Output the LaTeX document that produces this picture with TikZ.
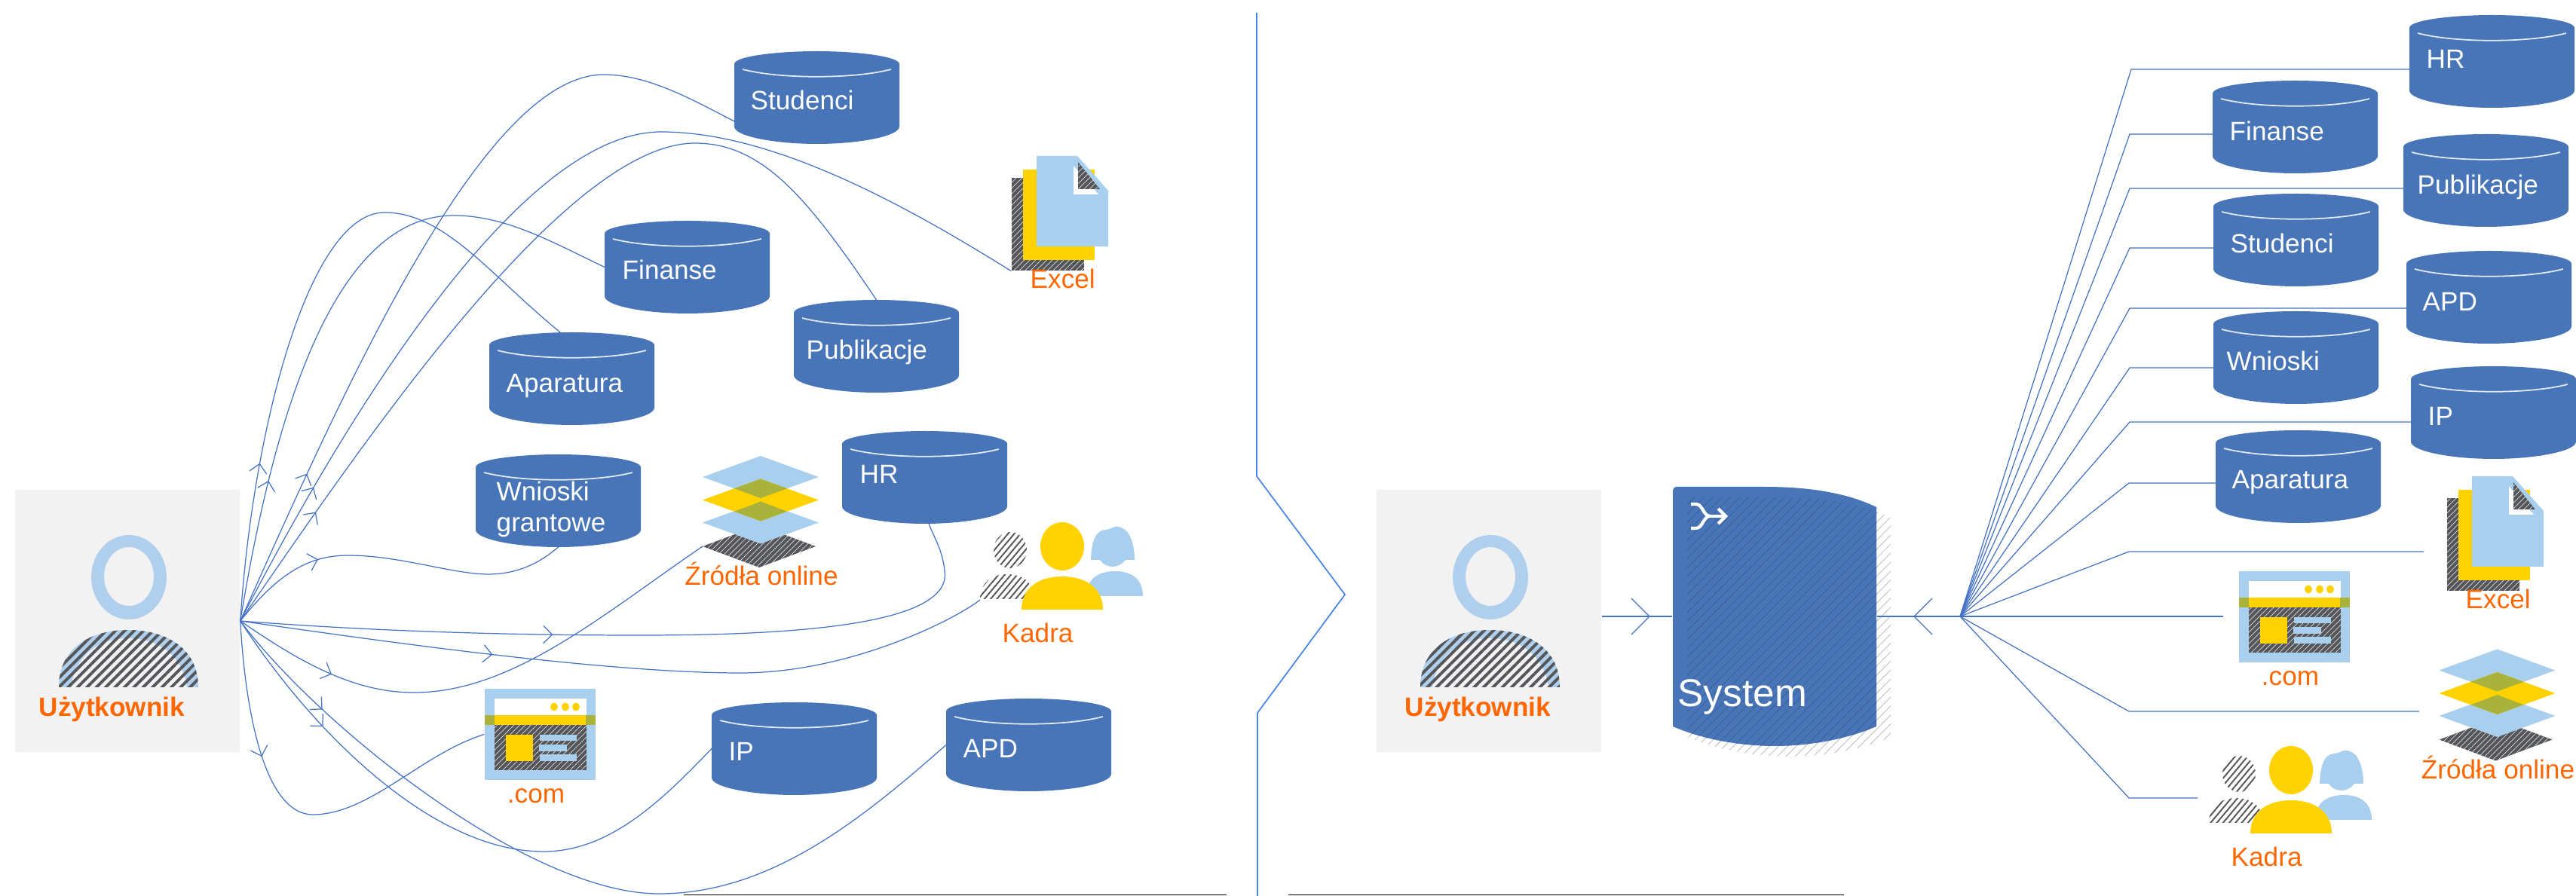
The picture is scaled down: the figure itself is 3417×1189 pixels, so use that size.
\documentclass[tikz,border=0pt]{standalone}
\usepackage{fontspec}
\setmainfont{Liberation Sans}
\usepackage{color}
\usepackage{tikz}
\usetikzlibrary{arrows.meta}
\usetikzlibrary{decorations.markings}
\usetikzlibrary{patterns.meta}

\definecolor{linkblue}{HTML}{4472C4}
\definecolor{cutblue}{HTML}{4A86E8}
\definecolor{dbblue}{HTML}{4874B8}
\definecolor{skyblue}{HTML}{A9CFEF}
\definecolor{headblue}{HTML}{B0CFEC}
\definecolor{sunyellow}{HTML}{FFD200}
\definecolor{olive}{HTML}{A9B23A}
\definecolor{slate}{HTML}{54565A}
\definecolor{labelorange}{HTML}{FF6600}
\definecolor{boxgrey}{HTML}{F2F2F2}

\tikzset{
        flow/.style={color=linkblue, line width=0.35pt},
        tipat/.style={postaction={decorate, decoration={markings, mark=at position #1 with {\arrow{Straight Barb[length=3.3pt,width=6.6pt]}}}}},
        bigtipat/.style={postaction={decorate, decoration={markings, mark=at position #1 with {\arrow{Straight Barb[length=6.8pt,width=13.6pt]}}}}},
        dbframe/.style={inner sep=0pt, outer sep=0pt, minimum width=2.19cm, minimum height=1.23cm},
        dbtext/.style={anchor=base west, inner sep=0pt, white, align=left, font=\fontsize{10}{11.8}\selectfont},
        icontext/.style={inner sep=0pt, labelorange, font=\fontsize{10}{11.8}\selectfont},
        hatched/.style={pattern={Lines[angle=45,distance=1.5pt,line width=0.15pt]}, pattern color=white},
        syshatch/.style={pattern={Lines[angle=45,distance=2.4pt,line width=0.2pt]}},
}

\newcommand{\dbase}[6]{
        \begin{scope}[shift={(#1,#2)}]
        \fill[dbblue] (0,17) .. controls (0,7) and (55,0) .. (109.5,0) .. controls (164,0) and (219,7) .. (219,17) -- (219,100) .. controls (219,113) and (164,123) .. (109.5,123) .. controls (55,123) and (0,113) .. (0,100) -- cycle;
        \draw[white!85!dbblue, line width=0.5pt] (11,24) .. controls (60,37) and (159,37) .. (208,24);
        \node[dbframe] (#3) at (109.5,61.5) {};
        \node[dbtext] (#3t) at (#4,#5) {#6};
        \end{scope}
}

\newcommand{\usericon}[4]{
        \begin{scope}[shift={(#1,#2)}]
        \node[fill=boxgrey, inner sep=0pt, minimum width=2.98cm, minimum height=3.48cm] (#3) at (149,174) {};
        \fill[headblue, even odd rule] (151,116) ellipse [x radius=50, y radius=56] (151,115) ellipse [x radius=33, y radius=39];
        \fill[headblue] (58,262) .. controls (58,210) and (100,186) .. (150,186) .. controls (200,186) and (243,210) .. (243,262) -- cycle;
        \fill[boxgrey] (74,262) .. controls (80,220) and (110,197) .. (150,197) .. controls (190,197) and (222,220) .. (228,262) -- cycle;
        \path[pattern={Lines[angle=45,distance=2.5pt,line width=1.1pt]}, pattern color=slate] (58,262) .. controls (58,210) and (100,186) .. (150,186) .. controls (200,186) and (243,210) .. (243,262) -- cycle;
        \node[anchor=base west, inner sep=0pt, labelorange, font=\bfseries\fontsize{10}{11.8}\selectfont] (#3t) at (#4,301) {Użytkownik};
        \end{scope}
}

\newcommand{\webicon}[3]{
        \begin{scope}[shift={(#1,#2)}]
        \fill[skyblue] (0,0) rectangle (147,121);
        \fill[white] (13,13) rectangle (135,35);
        \fill[slate] (13,48) rectangle (135,108);
        \path[hatched] (13,48) rectangle (135,108);
        \fill[sunyellow] (0,35) rectangle (147,48);
        \fill[olive] (0,35) rectangle (13,48);
        \fill[olive] (134,35) rectangle (147,48);
        \fill[sunyellow] (28,61) rectangle (64,96);
        \fill[skyblue] (73,61) rectangle (122,69);
        \fill[skyblue] (72,74) rectangle (109,83);
        \fill[skyblue] (73,87) rectangle (122,96);
        \fill[sunyellow] (92,24) ellipse [x radius=5, y radius=5.5];
        \fill[sunyellow] (107,24) ellipse [x radius=5, y radius=5.5];
        \fill[sunyellow] (121,24) ellipse [x radius=5, y radius=5.5];
        \node[inner sep=0pt, minimum width=1.47cm, minimum height=1.21cm] (#3) at (73.5,60.5) {};
        \node[icontext, anchor=base] (#3t) at (68,152) {.com};
        \end{scope}
}

\newcommand{\excelicon}[3]{
        \begin{scope}[shift={(#1,#2)}]
        \fill[slate] (0,29) rectangle (96,152);
        \path[hatched] (0,29) rectangle (96,152);
        \fill[sunyellow] (15,18) rectangle (110,138);
        \fill[skyblue] (33,0) -- (87,0) -- (128,46) -- (128,120) -- (33,120) -- cycle;
        \fill[white] (82,13) -- (82,51) -- (115,51) -- cycle;
        \fill[slate] (88,8) -- (88,44) -- (117,44) -- cycle;
        \path[hatched] (88,8) -- (88,44) -- (117,44) -- cycle;
        \node[inner sep=0pt, minimum width=1.28cm, minimum height=1.52cm] (#3) at (64,76) {};
        \node[icontext, anchor=base west] (#3t) at (24,176) {Excel};
        \end{scope}
}

\newcommand{\stackicon}[3]{
        \begin{scope}[shift={(#1,#2)}]
        \fill[slate] (-77,120) -- (-2,92) -- (73,120) -- (-2,148) -- cycle;
        \path[hatched] (-77,120) -- (-2,92) -- (73,120) -- (-2,148) -- cycle;
        \fill[skyblue] (-77,88.5) -- (0,60.5) -- (77,88.5) -- (0,116.5) -- cycle;
        \fill[skyblue] (-77,28) -- (0,0) -- (77,28) -- (0,56) -- cycle;
        \fill[sunyellow] (-77,58.5) -- (0,30.5) -- (77,58.5) -- (0,86.5) -- cycle;
        \fill[olive] (-35,43.25) -- (0,30.5) -- (35,43.25) -- (0,56) -- cycle;
        \fill[olive] (-35,73.75) -- (0,60.5) -- (35,73.75) -- (0,86.5) -- cycle;
        \node[inner sep=0pt, minimum width=1.54cm, minimum height=1.48cm] (#3) at (0,74) {};
        \coordinate (#3a) at (-77,120);
        \node[icontext, anchor=base] (#3t) at (1,172) {Źródła online};
        \end{scope}
}

\newcommand{\staffgroup}[3]{
        \begin{scope}[shift={(#1,#2)}, line hatch/.style={pattern={Lines[angle=50,distance=1.8pt,line width=0.55pt]}, pattern color=slate}]
        \path[line hatch] (-69,37) ellipse [x radius=22, y radius=24];
        \path[line hatch] (-109,102) .. controls (-109,82) and (-95,69) .. (-73,69) .. controls (-51,69) and (-37,82) .. (-37,102) -- cycle;
        \fill[skyblue] (38,50) .. controls (39,25) and (44,11) .. (57,10) .. controls (60,10) and (62,9) .. (65,8) .. controls (70,5) and (76,5) .. (80,8) .. controls (90,12) and (96,30) .. (96,50) -- (84,50) .. controls (80,56) and (72,59) .. (67,59) .. controls (60,59) and (54,56) .. (50,50) -- cycle;
        \fill[skyblue] (32,98) .. controls (32,78) and (45,65) .. (70,65) .. controls (95,65) and (107,78) .. (107,98) -- cycle;
        \fill[sunyellow] (0,32) ellipse [x radius=29, y radius=32];
        \fill[sunyellow] (-54,116) .. controls (-54,88) and (-32,72) .. (0,72) .. controls (32,72) and (54,88) .. (54,116) -- cycle;
        \node[inner sep=0pt, minimum width=2.16cm, minimum height=1.16cm] (#3) at (-1,58) {};
        \coordinate (#3a) at (-109,103);
        \node[icontext, anchor=base west] (#3t) at (-80,160) {Kadra};
        \end{scope}
}

\newcommand{\sysoutline}{(2219,652) .. controls (2219,648) and (2221,646) .. (2225,646) -- (2340,646) .. controls (2400,646) and (2450,654) .. (2489,673) -- (2489,964) .. controls (2450,981) and (2400,990) .. (2354,990) .. controls (2308,990) and (2258,981) .. (2219,964) -- cycle}

\begin{document}
\begin{tikzpicture}[x=0.01cm, y=-0.01cm]
        \useasboundingbox (0,0) rectangle (3417,1189);

        \usericon{20}{650}{userL}{31}
        \dbase{974}{68}{stuL}{21}{78}{Studenci}
        \dbase{802}{293}{finL}{23}{78}{Finanse}
        \dbase{1053}{398}{pubL}{16}{79}{Publikacje}
        \dbase{649}{441}{aprL}{22}{80}{Aparatura}
        \dbase{631}{603}{wniL}{27}{103}{Wnioski\\grantowe}
        \dbase{1117}{572}{hrL}{23}{70}{HR}
        \dbase{944}{932}{ipL}{22}{78}{IP}
        \dbase{1255}{927}{apdL}{22}{79}{APD}
        \excelicon{1342}{207}{excL}
        \stackicon{1009}{605}{srcL}
        \staffgroup{1409}{693}{kadL}
        \webicon{643}{914}{webL}

        \draw[flow, tipat=60pt] (userL.east) .. controls (335,570) and (410,282) .. (510,282) .. controls (590,282) and (650,365) .. (aprL.north -| 743,0);
        \draw[flow, tipat=54pt] (userL.east) .. controls (362,560) and (440,286) .. (602,286) .. controls (670,286) and (730,320) .. (finL.west);
        \draw[flow, tipat=61pt] (userL.east) .. controls (455,520) and (640,99) .. (801,99) .. controls (860,99) and (920,133) .. (stuL.west |- 0,161);
        \draw[flow, tipat=57.5pt] (userL.east) .. controls (440,590) and (680,175) .. (877,175) .. controls (1020,175) and (1190,265) .. (excL.south west);
        \draw[flow, tipat=50pt] (userL.east) .. controls (480,590) and (750,190) .. (922,190) .. controls (1010,190) and (1070,260) .. (pubL.north);
        \draw[flow, tipat=38pt] (userL.east) .. controls (370,760) and (410,737) .. (462,737) .. controls (530,737) and (600,762) .. (648,762) .. controls (685,762) and (715,748) .. (wniL.south);
        \draw[flow, tipat=118pt] (userL.east) .. controls (500,838) and (680,843) .. (848,843) .. controls (1050,843) and (1265,830) .. (1253,757) .. controls (1250,730) and (1240,715) .. (hrL.south -| 1232,0);
        \draw[flow, tipat=96pt] (userL.east) .. controls (500,850) and (800,893) .. (982,893) .. controls (1130,893) and (1270,820) .. (kadLa);
        \draw[flow, tipat=40pt] (userL.east) .. controls (400,880) and (470,919) .. (549,919) .. controls (680,919) and (800,815) .. (srcLa);
        \draw[flow, tipat=45.6pt] (userL.east) .. controls (420,960) and (700,1186) .. (874,1186) .. controls (1020,1186) and (1140,1090) .. (apdL.west);
        \draw[flow, tipat=50.7pt] (userL.east) .. controls (410,965) and (570,1130) .. (721,1130) .. controls (810,1130) and (880,1060) .. (ipL.west);
        \draw[flow, tipat=52pt] (userL.east) .. controls (325,940) and (350,1081) .. (415,1081) .. controls (490,1081) and (560,1000) .. (webL.west);

        \draw[cutblue, line width=0.5pt] (1667,17) -- (1667,632) -- (1784,789) -- (1668,946) -- (1668,1189);
        \draw[black, line width=0.4pt] (907,1187.5) -- (1627,1187.5);
        \draw[black, line width=0.4pt] (1709,1187.5) -- (2446,1187.5);

        \usericon{1826}{650}{userR}{37}
        \path[syshatch, pattern color=black!30, shift={(19,14)}] \sysoutline;
        \fill[dbblue] \sysoutline;
        \begin{scope}
        \clip \sysoutline;
        \path[syshatch, pattern color=dbblue!80!black, shift={(19,14)}] \sysoutline;
        \end{scope}
        \node[inner sep=0pt, minimum width=2.7cm, minimum height=3.44cm] (system) at (2354,818) {};
        \node[anchor=base west, inner sep=0pt, white, font=\fontsize{14.6}{17}\selectfont] (systemt) at (2225,938) {System};
        \draw[white, line width=1.2pt] (2243,669) -- (2250,669) .. controls (2258,669) and (2260,685) .. (2268,685) .. controls (2260,685) and (2258,701) .. (2250,701) -- (2243,701);
        \draw[white, line width=1.2pt] (2266,685) -- (2288,685);
        \draw[white, line width=1.2pt] (2279,675) -- (2289,685) -- (2279,695);

        \draw[flow, bigtipat=18.2pt] (userR.east |- system.west) -- (system.west);

        \dbase{3196}{20}{hrR}{22}{71}{HR}
        \dbase{2935}{107}{finR}{22}{80}{Finanse}
        \dbase{3188}{178}{pubR}{18}{80}{Publikacje}
        \dbase{2936}{257}{stuR}{22}{79}{Studenci}
        \dbase{3192}{333}{apdR}{21}{80}{APD}
        \dbase{2936}{413}{wniR}{17}{79}{Wnioski}
        \dbase{3198}{486}{ipR}{22}{79}{IP}
        \dbase{2939}{571}{aprR}{21}{78}{Aparatura}
        \excelicon{3246}{632}{excR}
        \webicon{2970}{758}{webR}
        \stackicon{3312.5}{861.5}{srcR}
        \staffgroup{3039}{990}{kadR}

        \coordinate (hub) at (2600,818);
        \coordinate (excEnd) at (3215,732);
        \coordinate (webEnd) at (2949,818);
        \coordinate (srcEnd) at (3209,944);
        \coordinate (kadEnd) at (2915,1059);

        \draw[flow, bigtipat=17.6pt] (hub) -- (system.east);
        \draw[flow] (hub) -- (2827,92) -- (hrR.west |- 0,92);
        \draw[flow] (hub) -- (2825,178) -- (finR.west |- 0,178);
        \draw[flow] (hub) -- (2825,250) -- (pubR.west |- 0,250);
        \draw[flow] (hub) -- (2825,329) -- (stuR.west |- 0,329);
        \draw[flow] (hub) -- (2825,409) -- (apdR.west |- 0,409);
        \draw[flow] (hub) -- (2825,488) -- (wniR.west |- 0,488);
        \draw[flow] (hub) -- (2825,560) -- (ipR.west |- 0,560);
        \draw[flow] (hub) -- (2824,641) -- (aprR.west |- 0,641);
        \draw[flow] (hub) -- (2824,732) -- (excEnd);
        \draw[flow] (hub) -- (webEnd);
        \draw[flow] (hub) -- (2824,944) -- (srcEnd);
        \draw[flow] (hub) -- (2824,1059) -- (kadEnd);
\end{tikzpicture}
\end{document}
